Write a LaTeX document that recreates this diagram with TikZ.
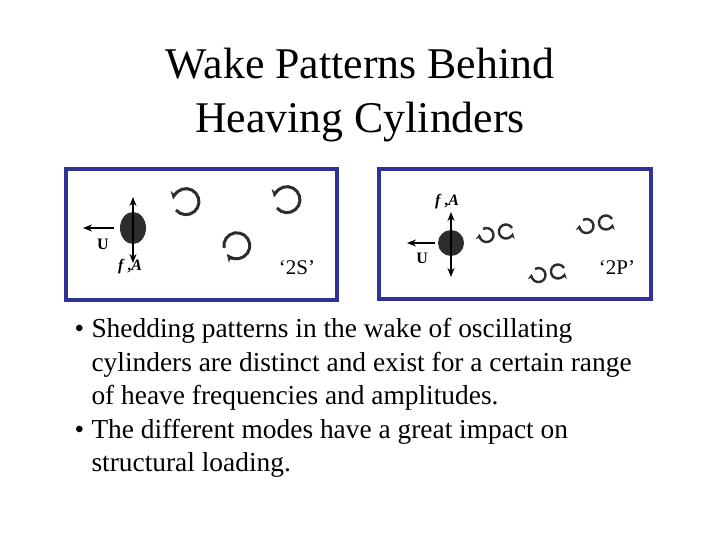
\documentclass[tikz,border=0pt]{standalone}
\usepackage{fontspec}
\setmainfont{Liberation Serif}
\usetikzlibrary{arrows.meta}
\begin{document}
\begin{tikzpicture}[x=1bp,y=-1bp,
  frame/.style={draw={rgb,255:red,50;green,50;blue,150},line width=3.5bp},
  cyl/.style={fill={rgb,255:red,45;green,45;blue,45}},
  arr/.style={-{Stealth[length=9bp,width=7bp]},line width=2.2bp},
  darr/.style={{Stealth[length=9bp,width=7bp]}-{Stealth[length=9bp,width=7bp]},line width=2.2bp},
  vort/.style={-{Stealth[length=8bp,width=8bp]},line width=3bp,draw={rgb,255:red,45;green,45;blue,45}},
  svort/.style={-{Stealth[length=6bp,width=6bp]},line width=2.4bp,draw={rgb,255:red,45;green,45;blue,45}},
  lab/.style={font=\bfseries\fontsize{16}{16}\selectfont}]
\useasboundingbox (0,0) rectangle (720,540);
\node (t) at (360,95) [align=center,font=\fontsize{44}{54}\selectfont] {Wake Patterns Behind\\Heaving Cylinders};
% left box
\draw[frame] (66,169) rectangle (337,300);
\fill[cyl] (133,228) ellipse (13 and 16);
\coordinate (a1) at (133,263); \coordinate (a2) at (133,197);
\draw[darr] (a1) -- (a2);
\coordinate (u1) at (114,228); \coordinate (u2) at (83,228);
\draw[arr] (u1) -- (u2);
\node[lab] (ul) at (103,244) {U};
\node[lab] (fl) at (130,267) {\textit{f}\,,\textit{A}};
\draw[vort] (176,210) arc (140:-170:13);
\draw[vort] (224,248) arc (-190:140:13);
\draw[vort] (277,208) arc (140:-170:13);
\node (s2) at (297,268) [font=\fontsize{21}{21}\selectfont] {‘2S’};
% right box
\draw[frame] (379,169) rectangle (651,299);
\fill[cyl] (451,243) circle (13);
\coordinate (b1) at (451,277); \coordinate (b2) at (451,212);
\draw[darr] (b1) -- (b2);
\coordinate (v1) at (435,243); \coordinate (v2) at (407,243);
\draw[arr] (v1) -- (v2);
\node[lab] (ul2) at (422,258) {U};
\node[lab] (fl2) at (447,202) {\textit{f}\,,\textit{A}};
\foreach \x/\y in {487/222,587/213,539/262}{
  \draw[svort] (\x-4,\y+7) arc (-120:190:7);
  \draw[svort] (\x+25,\y+6) arc (-30:-350:7);
}
\node (p2) at (617,268) [font=\fontsize{21}{21}\selectfont] {‘2P’};
% bullets
\node (b) at (71,398) [anchor=west,align=left,font=\fontsize{27.5}{33.5}\selectfont]
{\makebox[17bp][l]{•}Shedding patterns in the wake of oscillating\\
\hspace*{17bp}cylinders are distinct and exist for a certain range\\
\hspace*{17bp}of heave frequencies and amplitudes.\\
\makebox[17bp][l]{•}The different modes have a great impact on\\
\hspace*{17bp}structural loading.};
\end{tikzpicture}
\end{document}
